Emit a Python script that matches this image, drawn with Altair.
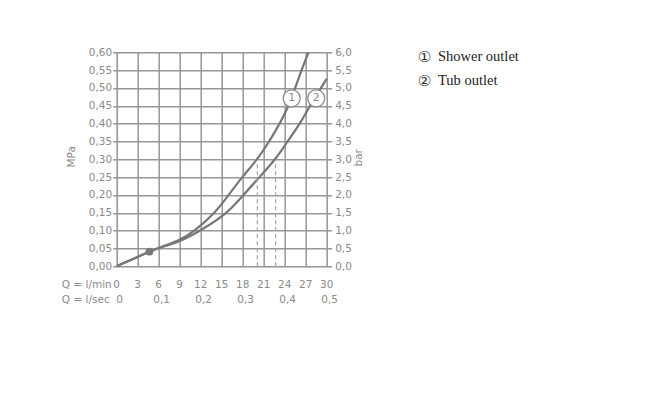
import altair as alt
import pandas as pd
import numpy as np

# ---- data ----
q_shower = [0, 4.67, 5.7, 9.0, 11.2, 14.1, 16.0, 17.9, 20.1, 21.8, 23.3, 24.6, 25.5, 26.4, 27.4]
p_shower = [0, 0.041, 0.05, 0.072, 0.10, 0.15, 0.20, 0.25, 0.30, 0.35, 0.40, 0.45, 0.50, 0.55, 0.60]
q_tub = [0, 4.67, 5.7, 9.0, 12.0, 15.9, 18.1, 20.4, 22.7, 24.4, 26.2, 27.6, 29.2, 30.0]
p_tub = [0, 0.041, 0.05, 0.068, 0.10, 0.15, 0.20, 0.25, 0.30, 0.35, 0.40, 0.45, 0.50, 0.526]

dash_q = [20.1, 22.7]
dash_top = [0.29, 0.29]

marker_q = [4.67]
marker_p = [0.041]

badge_q = [25.0, 28.5]
badge_p = [0.471, 0.471]
badge_txt = ["1", "2"]

lmin_ticks = [0, 3, 6, 9, 12, 15, 18, 21, 24, 27, 30]
lsec_pos = [0, 6, 12, 18, 24, 30]
lsec_labels = ["0", "0,1", "0,2", "0,3", "0,4", "0,5"]
mpa_ticks = [0.0, 0.05, 0.10, 0.15, 0.20, 0.25, 0.30, 0.35, 0.40, 0.45, 0.50, 0.55, 0.60]
bar_ticks = [0.0, 0.5, 1.0, 1.5, 2.0, 2.5, 3.0, 3.5, 4.0, 4.5, 5.0, 5.5, 6.0]

legend_marks = ["\u2460", "\u2461"]
legend_labels = ["Shower outlet", "Tub outlet"]

# ---- styling ----
W, H = 210, 214
LINE = "#777777"
GRID = "#979797"
TXT = "#8a8a8a"
FONT = "DejaVu Sans"
FS = 10.5

curves = pd.DataFrame({
    "q": q_shower + q_tub,
    "p": p_shower + p_tub,
    "s": ["Shower outlet"] * len(q_shower) + ["Tub outlet"] * len(q_tub),
})

xscale = alt.Scale(domain=[0, 30], nice=False, zero=False)
yscale = alt.Scale(domain=[0, 0.6], nice=False, zero=False)

xaxis = alt.Axis(values=lmin_ticks, grid=True, gridColor=GRID, gridWidth=1.5,
                 labels=False, ticks=False, domain=False, title=None)
yaxis = alt.Axis(values=mpa_ticks, grid=True, gridColor=GRID, gridWidth=1.5,
                 format=".2f", labelExpr="replace(datum.label, '.', ',')",
                 tickColor=GRID, tickSize=4, tickWidth=1.5, labelPadding=1,
                 domain=False, labelColor=TXT, labelFont=FONT, labelFontSize=FS,
                 title="MPa", titleColor=TXT, titleFont=FONT, titleFontSize=FS,
                 titleFontWeight="normal", titleAngle=-90, titleAlign="center",
                 titleBaseline="middle", titleX=-44.7, titleY=104)


def X(field):
    return alt.X(field, type="quantitative", scale=xscale, axis=xaxis)


def Y(field):
    return alt.Y(field, type="quantitative", scale=yscale, axis=yaxis)


lines = alt.Chart(curves).mark_line(color=LINE, strokeWidth=2.2, interpolate="basis").encode(
    x=X("q"), y=Y("p"), detail="s:N",
)

dash_df = pd.DataFrame({"q": dash_q, "top": dash_top, "zero": [0.0, 0.0]})
dashes = alt.Chart(dash_df).mark_rule(color="#a8a8a8", strokeWidth=1.3, strokeDash=[4, 3]).encode(
    x=X("q"), y=Y("zero"), y2="top:Q",
)

marker = alt.Chart(pd.DataFrame({"q": marker_q, "p": marker_p})).mark_point(
    filled=True, color=LINE, size=60, opacity=1).encode(x=X("q"), y=Y("p"))

badge_df = pd.DataFrame({"q": badge_q, "p": badge_p, "t": badge_txt})
badges = alt.Chart(badge_df).mark_point(
    filled=True, fill="white", stroke="#888888", strokeWidth=1.2, size=290, opacity=1,
    fillOpacity=1).encode(x=X("q"), y=Y("p"))
badge_text = alt.Chart(badge_df).mark_text(
    font=FONT, fontSize=11, color=TXT, baseline="middle", align="center").encode(
    x=X("q"), y=Y("p"), text="t:N")

lmin_df = pd.DataFrame({"q": lmin_ticks, "t": [str(v) for v in lmin_ticks]})
lmin_text = alt.Chart(lmin_df).mark_text(
    font=FONT, fontSize=FS, color=TXT, baseline="middle", align="center").encode(
    x=X("q"), y=alt.value(H + 18.7), text="t:N")

lsec_df = pd.DataFrame({"q": lsec_pos, "t": lsec_labels})
lsec_text = alt.Chart(lsec_df).mark_text(
    font=FONT, fontSize=FS, color=TXT, baseline="middle", align="center", dx=3).encode(
    x=X("q"), y=alt.value(H + 33.7), text="t:N")

row_df = pd.DataFrame({"q": [0], "t1": ["Q = l/min"], "t2": ["Q = l/sec"]})
row1 = alt.Chart(row_df).mark_text(
    font=FONT, fontSize=FS, color=TXT, baseline="middle", align="right", dx=-5).encode(
    x=X("q"), y=alt.value(H + 18.7), text="t1:N")
row2 = alt.Chart(row_df).mark_text(
    font=FONT, fontSize=FS, color=TXT, baseline="middle", align="right", dx=-7).encode(
    x=X("q"), y=alt.value(H + 33.7), text="t2:N")

leg_layers = []
for i, (m, lab) in enumerate(zip(legend_marks, legend_labels)):
    yy = 5.0 + 23.4 * i
    leg_layers.append(alt.Chart(pd.DataFrame({"t": [m]})).mark_text(
        font="DejaVu Sans", fontSize=15, color="#333333", align="left", baseline="middle").encode(
        x=alt.value(301.0), y=alt.value(yy), text="t:N"))
    leg_layers.append(alt.Chart(pd.DataFrame({"t": [lab]})).mark_text(
        font="Liberation Serif", fontSize=14.5, color="#222222", align="left", baseline="middle").encode(
        x=alt.value(321.3), y=alt.value(yy), text="t:N"))

left_layer = alt.layer(lines, dashes, marker, badges, badge_text, lmin_text, lsec_text,
                       row1, row2, *leg_layers)

right_axis = alt.Chart(pd.DataFrame({"b": [0, 6]})).mark_point(opacity=0).encode(
    y=alt.Y("b:Q", scale=alt.Scale(domain=[0, 6], nice=False, zero=False),
            axis=alt.Axis(orient="right", values=bar_ticks, format=".1f",
                          labelExpr="replace(datum.label, '.', ',')", grid=False,
                          tickColor=GRID, tickSize=5, tickWidth=1.5, labelPadding=3,
                          domain=False, labelColor=TXT, labelFont=FONT, labelFontSize=FS,
                          title="bar", titleColor=TXT, titleFont=FONT, titleFontSize=FS,
                          titleFontWeight="normal", titleAngle=-90, titleAlign="center",
                          titleBaseline="middle", titleX=31.5, titleY=105)),
)

chart = alt.layer(left_layer, right_axis).resolve_scale(y="independent").properties(
    width=W, height=H,
    autosize=alt.AutoSizeParams(type="none"),
    padding={"left": 108.7, "top": 44.3, "right": 310, "bottom": 133},
).configure_view(stroke=None).configure(background="white")

chart.save("out.html", embed_options={"renderer": "svg", "actions": False})
